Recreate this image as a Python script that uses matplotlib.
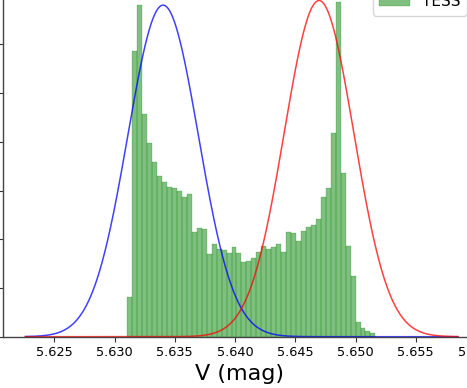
import numpy as np
import matplotlib
matplotlib.use('Agg')
import matplotlib.pyplot as plt
from matplotlib.ticker import FormatStrFormatter

# histogram of TESS magnitudes (density), 50 bins
bin_lo = 5.63106
bin_hi = 5.65165
tess_density = [16.4, 117.3, 136.2, 91.5, 79.4, 71.6, 66.0, 63.5, 61.4, 61.1,
                59.7, 57.2, 58.5, 43.1, 44.5, 44.1, 34.0, 38.1, 36.0, 35.6,
                34.5, 37.0, 34.5, 30.6, 31.1, 32.4, 34.9, 37.2, 36.0, 36.7,
                37.9, 34.8, 43.0, 42.7, 39.3, 43.3, 44.9, 45.9, 48.2, 57.5,
                60.9, 83.8, 137.6, 67.4, 37.2, 24.9, 5.9, 3.7, 2.3, 1.4]

# two normal components (mean, sigma) and the range they are drawn on
blue_mu, blue_sigma = 5.63403, 0.00293
red_mu, red_sigma = 5.64697, 0.00289
model_lo, model_hi = 5.6226, 5.6585

xticks = [5.625, 5.630, 5.635, 5.640, 5.645, 5.650, 5.655, 5.660]
yticks = [0, 20, 40, 60, 80, 100, 120, 140]


def gauss(x, mu, sigma):
    return np.exp(-0.5 * ((x - mu) / sigma) ** 2) / (sigma * np.sqrt(2 * np.pi))


W, H = 467, 388
fig = plt.figure(figsize=(W / 100, H / 100), dpi=100)
# axes deliberately larger than the figure (picture is a crop)
left, bottom_px, right, top_px = 2.5, 336.7, 476.0, -16.4
ax = fig.add_axes([left / W, 1 - bottom_px / H, (right - left) / W, (bottom_px - top_px) / H])

edges = np.linspace(bin_lo, bin_hi, len(tess_density) + 1)
ax.bar(edges[:-1], tess_density, width=np.diff(edges), align='edge',
       color='g', alpha=0.5, edgecolor='g', linewidth=0.3, label='TESS')

xs = np.linspace(model_lo, model_hi, 600)
ax.plot(xs, gauss(xs, blue_mu, blue_sigma), color='b', alpha=0.75, lw=1.1)
ax.plot(xs, gauss(xs, red_mu, red_sigma), color='r', alpha=0.75, lw=1.1)

ax.set_xlim(5.6207, 5.6598)
ax.set_ylim(0, 145)
ax.set_xticks(xticks)
ax.set_yticks(yticks)
ax.xaxis.set_major_formatter(FormatStrFormatter('%.3f'))
ax.tick_params(labelsize=9.3, color='#333333')
for s in ax.spines.values():
    s.set_color('#444444')
    s.set_linewidth(1.0)

ax.set_xlabel('V (mag)', fontsize=16, labelpad=3)

fig.legend(handles=[ax.patches[0]], labels=['TESS'], loc='lower left',
           bbox_to_anchor=(373 / W, 1 - 15.5 / H), borderaxespad=0,
           fontsize=11, handlelength=2.0)

fig.savefig('out.png', dpi=100)
